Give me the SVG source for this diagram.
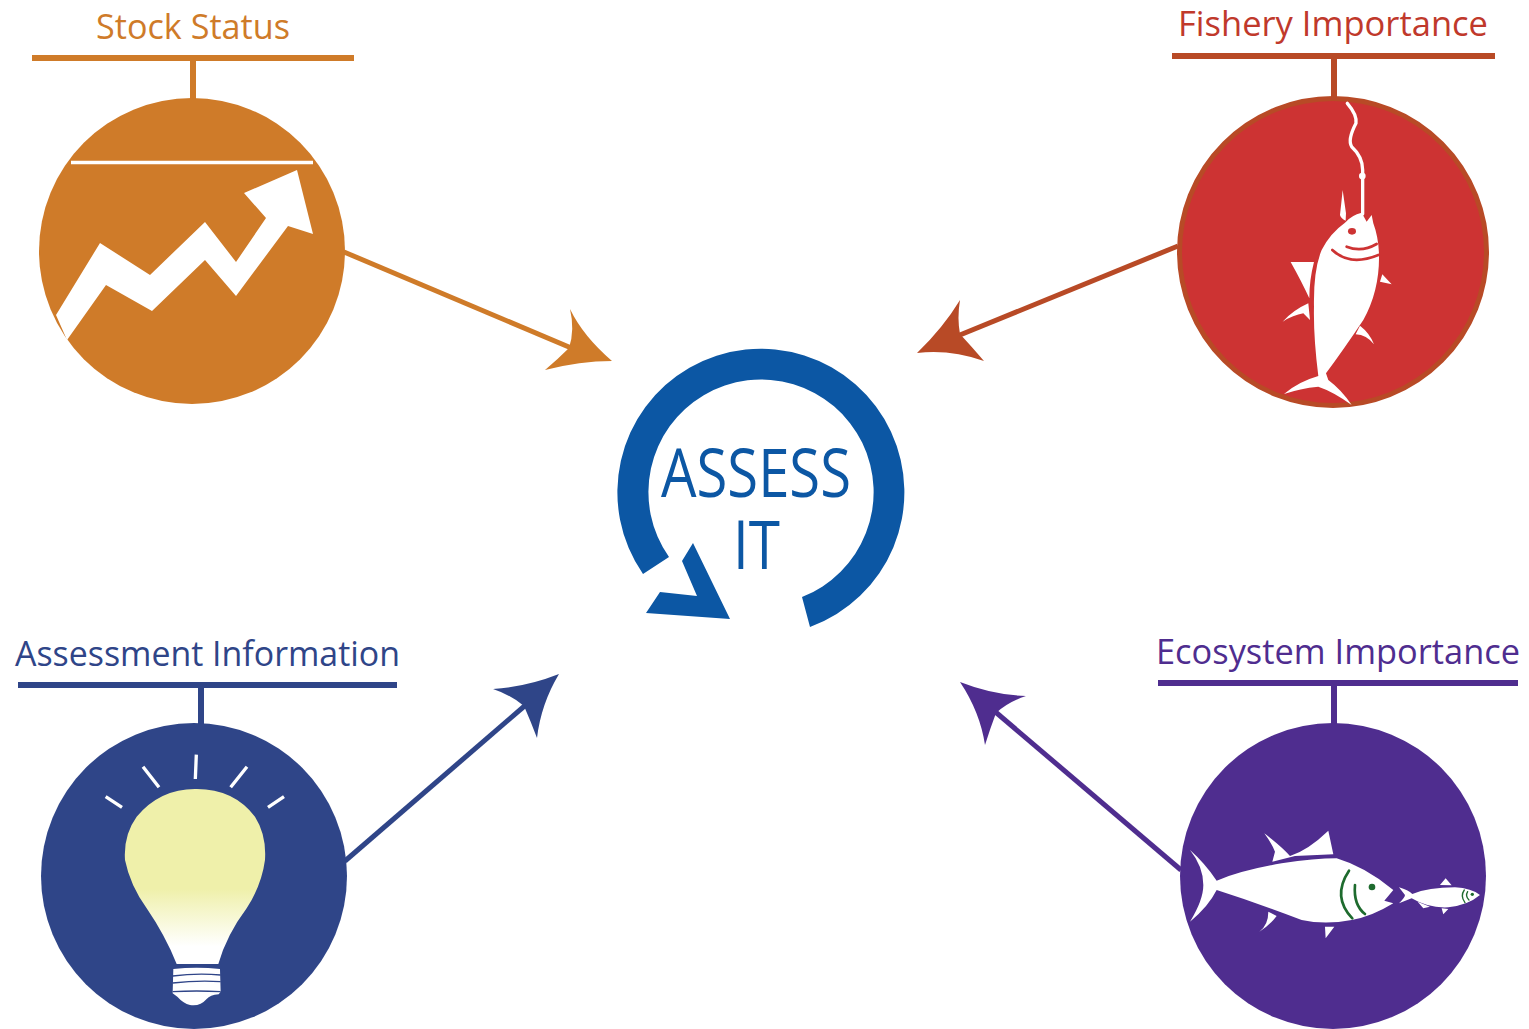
<svg xmlns="http://www.w3.org/2000/svg" width="1529" height="1029" viewBox="0 0 1529 1029">
<style>
text{font-family:"Open Sans","Noto Sans","Liberation Sans",sans-serif;font-size:34px}
.w{fill:#fff}
.ws{fill:none;stroke:#fff;stroke-linecap:round}
.g{fill:none;stroke:#1e6b2e;stroke-linecap:round}
.o{fill:#cf7b29}.os{stroke:#cf7b29}
.r{fill:#b84a26}.rs{stroke:#b84a26}
.n{fill:#2f4588}.ns{stroke:#2f4588}
.p{fill:#4f2d8f}.ps{stroke:#4f2d8f}
.bar{stroke-width:6;fill:none}
.ln{stroke-width:5;fill:none}
.blue{fill:#0c57a4}
</style>
<defs>
<linearGradient id="bulb" x1="0" y1="0" x2="0" y2="1">
<stop offset="0" stop-color="#eff0aa"/><stop offset=".57" stop-color="#eff0aa"/><stop offset=".9" stop-color="#fff"/>
</linearGradient>
</defs>
<rect width="1529" height="1029" fill="#fff"/>
<g id="connectors">
<path class="ln os" d="M344 252L576 350"/>
<path class="o" d="M612 361Q583 336 570 309Q575 330 569 348Q558 359 545 370Q580 361 612 361Z"/>
<path class="ln rs" d="M1178 246L955 337"/>
<path class="r" d="M917 353Q943 328 960 300Q957 318 960 334Q972 347 984 361Q950 349 917 353Z"/>
<path class="ln ns" d="M345 861L528 703"/>
<path class="n" d="M559 674Q526 687 493 689Q511 695 524 706Q531 722 537 738Q541 704 559 674Z"/>
<path class="ln ps" d="M1181 870L992 709"/>
<path class="p" d="M960 682Q993 695 1026 696Q1008 702 996 713Q990 729 985 745Q980 712 960 682Z"/>
</g>
<g id="stock-status">
<text class="o" x="96" y="39" textLength="194" lengthAdjust="spacingAndGlyphs">Stock Status</text>
<path class="bar os" d="M32 58H354M193 58V100"/>
<circle class="o" cx="192" cy="251" r="153"/>
<path class="ws" stroke-width="3.500" d="M71 162.500H313" style="stroke-linecap:butt"/>
<path class="w" d="M56 315L100 243L150 275L205 222L236 262L266 218L244 193L297 170L313 234L288 226L236 296L205 260L152 311L106 285L67 340Z"/>
</g>
<g id="fishery-importance">
<text fill="#c0392b" x="1178" y="36" textLength="310" lengthAdjust="spacingAndGlyphs">Fishery Importance</text>
<path class="bar rs" d="M1172 56H1495M1334 56V98"/>
<circle cx="1333" cy="252" r="153.500" fill="#cd3333" stroke="#b84a26" stroke-width="5"/>
<g transform="translate(1170 90) scale(.3333)">
<path class="ws" stroke-width="10" d="M532 40Q562 75 558 100Q532 150 545 170Q578 200 578 240V372"/>
<circle class="w" cx="577" cy="258" r="10"/>
<path class="w" d="M518 300L528 370L527 392Q512 385 510 375Q514 340 518 300Z"/>
<path class="w" d="M525 398Q545 375 575 368L590 395L605 375L610 400Q625 440 627 490Q630 600 580 690Q520 780 468 850L475 870Q515 900 545 945Q490 905 445 890Q390 895 342 912Q385 875 445 858Q430 740 432 650Q430 540 455 480Q480 430 525 398Z"/>
<path class="w" d="M362 516H432Q418 570 418 625Q395 575 362 516ZM338 695Q370 660 415 640L420 690L400 670Q370 675 338 695ZM637 553L665 583L630 575ZM570 707Q600 730 612 763Q590 735 557 733Z"/>
<path fill="none" stroke="#cd3333" stroke-width="8" stroke-linecap="round" d="M530 470Q575 488 620 462M487 480Q540 530 625 495"/>
<ellipse cx="546" cy="424" rx="12" ry="10" fill="#cd3333"/>
</g>
</g>
<g id="assess-it">
<path class="blue" d="M643 574A143.500 143.500 0 1 1 810 627L802 597A112.600 112.600 0 1 0 669 557Z"/>
<path class="blue" d="M693 543L730 619L646 613L660 592L697 596L682 561Z"/>
<text class="blue" x="661" y="497" textLength="190" lengthAdjust="spacingAndGlyphs" style="font-size:68px">ASSESS</text>
<text class="blue" x="733" y="569" textLength="47" lengthAdjust="spacingAndGlyphs" style="font-size:68px">IT</text>
</g>
<g id="assessment-information">
<text class="n" x="15" y="666" textLength="385" lengthAdjust="spacingAndGlyphs">Assessment Information</text>
<path class="bar ns" d="M18 685H397M201 685V727"/>
<circle class="n" cx="194" cy="876" r="153"/>
<g transform="translate(90 745) scale(.3333)">
<path class="ws" stroke-width="10" style="stroke-linecap:butt" d="M319 29L316 102M159 65L207 127M471 65L422 127M47 155L96 187M582 155L534 187"/>
<path fill="url(#bulb)" d="M315 132Q430 130 495 215Q530 270 525 345Q515 420 470 490Q410 570 385 657H260Q225 570 170 490Q120 420 105 345Q100 270 140 215Q210 132 315 132Z"/>
<path class="w" d="M250 672Q320 664 390 672L392 740L386 748Q360 750 350 762Q330 785 300 780Q280 775 262 755L248 745Z"/>
<path fill="none" stroke="#2f4588" stroke-width="4" d="M248 693Q320 684 392 690M248 714Q320 706 392 710M248 740Q320 736 392 740"/>
</g>
</g>
<g id="ecosystem-importance">
<text class="p" x="1156" y="664" textLength="364" lengthAdjust="spacingAndGlyphs">Ecosystem Importance</text>
<path class="bar ps" d="M1158 683H1518M1334 683V725"/>
<circle class="p" cx="1333" cy="876" r="153"/>
<g transform="translate(1175 810) scale(.3333)">
<path class="w" d="M45 120Q90 160 125 212Q200 180 320 160Q420 145 485 145Q570 170 655 240L628 272L655 280Q590 320 530 330Q450 345 380 330Q250 280 125 240Q100 290 45 335Q85 270 85 225Q85 170 45 120Z"/>
<path class="w" d="M268 70Q320 110 345 138Q400 120 460 62L475 133L360 138L292 155L300 125Q290 100 268 70ZM253 365Q280 345 280 305L305 318Q285 345 253 365ZM450 350H478L452 385Z"/>
<path class="g" stroke-width="8" d="M522 182Q470 260 532 325M540 225Q535 285 570 312"/>
<circle cx="591" cy="231" r="10" fill="#1e6b2e"/>
<path class="w" d="M672 232Q700 240 712 252Q760 232 840 232Q890 235 915 255Q880 285 820 292Q760 295 710 265L672 280Q690 262 690 255Z"/>
<path class="w" d="M795 225L812 205L830 226ZM728 275L765 290L745 295ZM800 295L820 297L805 313Z"/>
<path class="g" stroke-width="4" d="M868 240Q855 258 870 278M878 245Q870 258 882 270"/>
<circle cx="892" cy="253" r="5" fill="#1e6b2e"/>
</g>
</g>
</svg>
